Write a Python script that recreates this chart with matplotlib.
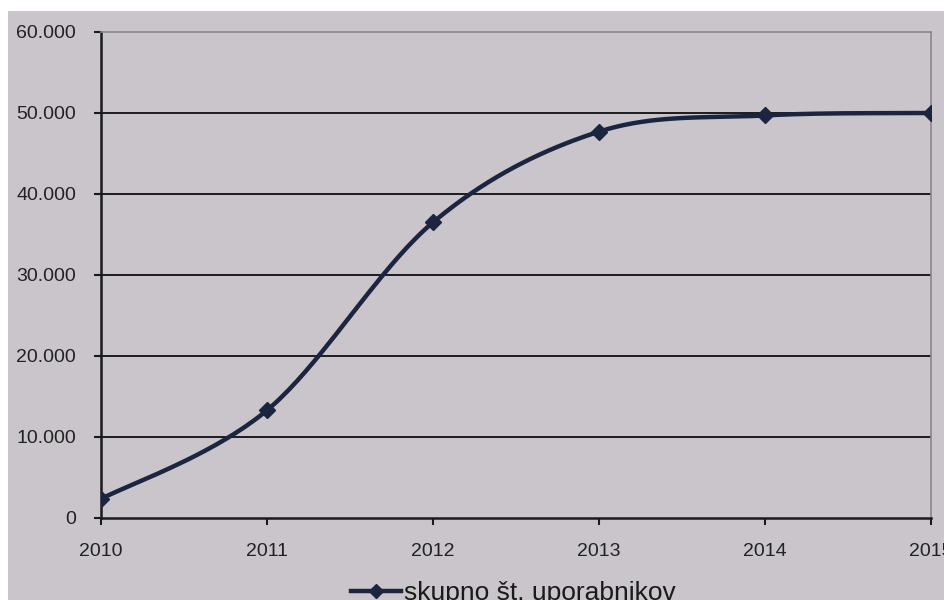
import numpy as np
import matplotlib
matplotlib.use("Agg")
import matplotlib.pyplot as plt
from matplotlib.patches import Rectangle
from matplotlib.lines import Line2D

years = [2010, 2011, 2012, 2013, 2014, 2015]
users = [2350, 13300, 36500, 47700, 49700, 50000]
y_ticks = [0, 10000, 20000, 30000, 40000, 50000, 60000]
y_labels = ["0", "10.000", "20.000", "30.000", "40.000", "50.000", "60.000"]
series_name = "skupno št. uporabnikov"

BG = "#c9c5cb"
LINE = "#1b2540"


def smooth_curve(xs, ys, steps=40):
    # Bezier segments with tangents from neighbouring points (spreadsheet-style smoothing)
    px = np.array(xs, dtype=float)
    py = np.array(ys, dtype=float)
    n = len(px)
    out_x, out_y = [], []
    t = np.linspace(0, 1, steps)
    for i in range(n - 1):
        i0 = max(i - 1, 0)
        i3 = min(i + 2, n - 1)
        c1x = px[i] + (px[i + 1] - px[i0]) / 6
        c1y = py[i] + (py[i + 1] - py[i0]) / 6
        c2x = px[i + 1] - (px[i3] - px[i]) / 6
        c2y = py[i + 1] - (py[i3] - py[i]) / 6
        b0 = (1 - t) ** 3
        b1 = 3 * (1 - t) ** 2 * t
        b2 = 3 * (1 - t) * t ** 2
        b3 = t ** 3
        out_x.extend(b0 * px[i] + b1 * c1x + b2 * c2x + b3 * px[i + 1])
        out_y.extend(b0 * py[i] + b1 * c1y + b2 * c2y + b3 * py[i + 1])
    return out_x, out_y


plt.rcParams["font.family"] = ["Liberation Sans", "DejaVu Sans"]

fig = plt.figure(figsize=(9.45, 6), dpi=100)
fig.patch.set_facecolor("white")
fig.add_artist(Rectangle((8 / 945, 0), 1, 1 - 11 / 600, transform=fig.transFigure,
                         facecolor=BG, edgecolor="none", zorder=-10))

ax = fig.add_axes([101 / 945, 1 - 518 / 600, 830 / 945, 486 / 600])
ax.set_facecolor(BG)

sx, sy = smooth_curve(years, users)
ax.plot(sx, sy, color=LINE, linewidth=3.2, solid_capstyle="round", zorder=3)
ax.plot(years, users, linestyle="none", marker="D", markersize=8,
        color=LINE, zorder=4)

ax.set_xlim(years[0], years[-1])
ax.set_ylim(y_ticks[0], y_ticks[-1])
ax.set_xticks(years)
ax.set_xticklabels([str(y) for y in years])
ax.set_yticks(y_ticks)
ax.set_yticklabels(y_labels)

for y in y_ticks[1:-1]:
    ax.axhline(y, color="black", linewidth=1.2, zorder=1)

for side in ["top", "right"]:
    ax.spines[side].set_color("#8a878c")
    ax.spines[side].set_linewidth(1.2)
for side in ["left", "bottom"]:
    ax.spines[side].set_color("#1a1a1a")
    ax.spines[side].set_linewidth(1.8)

ax.tick_params(axis="both", direction="out", length=5, width=1.5, color="#1a1a1a",
               labelsize=14, labelcolor="#222222")
ax.tick_params(axis="y", pad=13)
ax.tick_params(axis="x", pad=13)
for lbl in ax.get_xticklabels():
    lbl.set_clip_on(False)

handle = Line2D([], [], color=LINE, linewidth=3.2, marker="D", markersize=7)
fig.legend([handle], [series_name], loc="center", bbox_to_anchor=(0.543, 0.012),
           frameon=False, fontsize=19, handlelength=1.9, handletextpad=0.1,
           labelcolor="#1a1a1a")

fig.savefig("out.png", dpi=100, facecolor=fig.get_facecolor())
